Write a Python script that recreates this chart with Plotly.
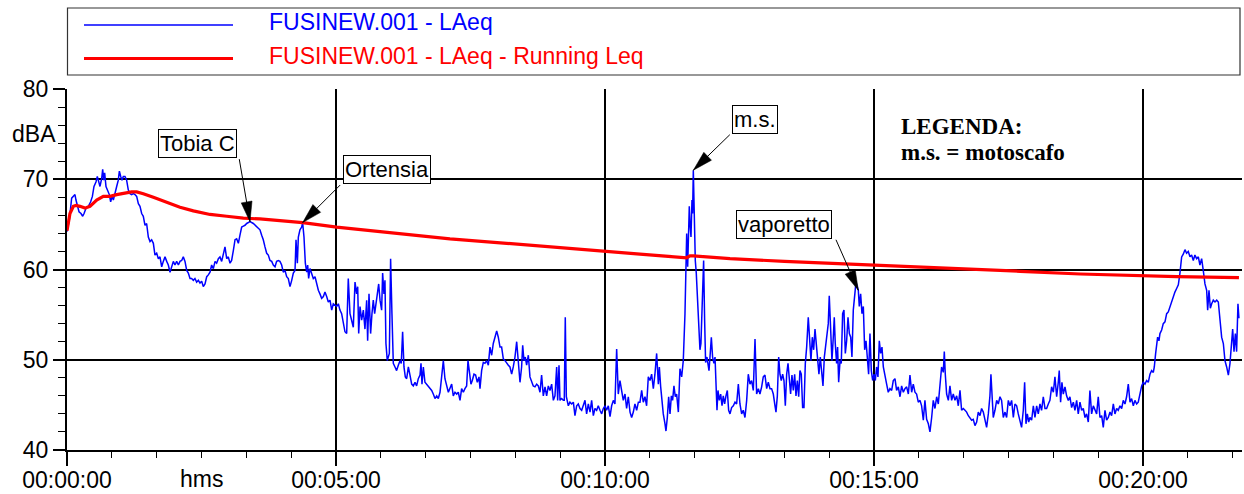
import plotly.graph_objects as go
import numpy as np

# ---------------- data ----------------
# LAeq short-time levels: elapsed time in seconds, level in dBA
time_s = [
    0.0, 2.6, 5.2, 7.1, 8.9, 10.0, 11.5, 13.4, 15.6, 17.5, 19.0, 21.2, 23.8, 26.4, 28.3, 30.1, 32.3, 33.8, 34.9, 36.8,
    38.7, 39.8, 40.9, 42.0, 43.5, 45.4, 47.2, 48.7, 50.2, 51.7, 53.5, 55.4, 57.2, 58.4, 59.9, 61.3, 62.8, 64.7, 66.5, 68.4,
    70.3, 72.1, 74.0, 75.8, 77.7, 79.6, 81.4, 83.3, 85.1, 87.0, 88.8, 90.7, 92.6, 94.4, 96.3, 98.1, 100.0, 101.9, 103.7, 105.6,
    107.4, 109.3, 111.2, 113.0, 114.9, 116.7, 118.6, 120.4, 122.3, 124.2, 126.0, 127.9, 129.7, 131.6, 133.5, 135.3, 137.2, 139.0, 140.9, 142.7,
    144.6, 146.5, 148.3, 150.2, 152.0, 153.9, 155.8, 157.6, 159.5, 161.3, 163.2, 165.1, 166.9, 168.8, 170.6, 172.5, 174.3, 176.2, 178.1, 179.9,
    181.8, 183.6, 185.5, 187.4, 189.2, 191.1, 192.9, 194.8, 196.7, 198.5, 200.4, 202.2, 204.1,
    207.8, 211.5, 215.2, 217.1, 218.9, 220.8, 222.7, 224.5, 226.4, 228.3, 230.1, 232.0, 233.8, 235.7, 237.5, 239.4, 241.2, 243.1, 245.0, 246.8,
    248.7, 250.6, 252.4, 254.3, 255.4, 256.9, 258.0, 259.8, 261.7, 262.8, 264.3, 265.8, 267.3, 268.4, 269.5, 271.0, 272.9, 274.7, 276.6, 278.4,
    280.3, 282.1, 284.0, 285.9, 287.7, 289.6, 291.4, 293.3, 295.2, 297.0, 298.9, 300.7, 302.6, 304.4, 306.3, 308.2, 310.0, 311.9, 313.7, 315.6,
    317.5, 319.3, 321.2, 323.0, 324.2, 325.3, 326.8, 328.6, 330.5, 332.3, 334.2, 335.3, 336.8, 338.6, 340.1, 341.6, 343.1, 344.6, 346.1, 347.6,
    349.1, 350.9, 352.0, 353.5, 354.6, 355.7, 357.2, 359.5, 360.9, 362.4, 363.9, 365.8, 367.6, 369.5, 371.4, 372.8, 374.3, 375.8, 377.3, 378.8,
    380.7, 382.5, 384.4, 386.2, 388.1, 389.9, 391.8, 393.7, 394.8, 395.9, 397.4, 399.2, 401.1, 403.0, 404.8, 406.7, 408.5, 410.4, 412.3, 414.1,
    416.0, 417.8, 419.7, 421.5, 423.4, 425.3,
    429.0, 430.8, 432.7, 434.6, 436.4, 438.3, 440.1, 442.0, 443.8, 445.7, 447.2, 448.7, 450.5, 452.0, 453.9, 455.7, 457.6, 459.5, 460.6, 462.4,
    464.3, 466.1, 468.0, 469.9, 471.7, 473.6, 475.4, 477.3, 479.2, 481.0, 482.9, 484.7, 486.6, 488.5, 490.3, 492.2, 494.0, 495.9, 497.7, 499.6,
    501.5, 503.3, 505.2, 507.0, 508.2, 509.6, 511.1, 512.6, 514.5, 516.3, 518.2, 520.0, 521.9, 523.8, 525.6, 527.5, 529.3, 531.2, 533.1, 534.9,
    536.8, 538.6, 540.5, 542.4, 544.2, 546.1, 547.2, 548.7, 549.8, 551.7, 553.5, 554.6, 555.7, 556.9, 559.1, 560.9, 562.8, 564.7, 566.5, 568.4,
    570.2, 572.1, 574.0, 575.8, 577.7, 579.5, 581.4, 583.3, 585.1, 587.0, 588.8, 590.7, 592.5, 594.4, 596.3, 598.1, 600.0, 601.8, 603.7, 605.6,
    607.4, 609.3, 611.1, 613.0, 614.8, 616.7, 618.6, 620.4, 622.3, 624.1, 626.0, 627.9, 629.7, 631.6, 633.4, 635.3, 637.2, 639.0,
    640.9, 642.7, 644.6, 646.4, 648.3, 650.2, 652.0, 653.9, 655.7, 657.6, 659.5, 660.6, 662.1, 663.5, 665.0, 666.9, 668.0, 669.5, 671.0, 672.5,
    674.0, 675.4, 676.9, 678.4, 679.9, 681.8, 683.6, 685.5, 687.3, 689.2, 690.3, 691.1, 692.2, 692.9, 694.0, 694.8, 695.9, 697.0, 697.7, 698.5,
    699.6, 700.7, 701.8, 703.3, 704.8, 705.9, 707.0, 708.2, 709.3, 710.0, 711.1, 712.2, 713.7, 714.8, 716.0, 717.1, 718.6, 720.0, 721.5, 722.7,
    723.8, 724.9, 726.0, 727.5, 729.0, 730.5, 731.9, 733.4, 734.9, 736.4, 737.9, 739.4, 741.2, 743.1, 745.0, 746.8, 748.7, 750.5, 752.4, 754.2,
    756.1, 758.0, 759.8, 761.7, 763.5, 765.4, 767.3, 769.1, 771.0, 772.8, 774.7, 776.5, 778.4, 780.3, 782.1, 784.0, 785.8, 787.7, 789.6, 790.7,
    792.2, 793.7, 795.1, 796.6, 798.1, 799.6, 801.1, 802.6, 804.1, 805.5, 807.0, 808.5, 810.0, 811.5, 813.0, 814.5, 816.0, 817.4, 818.9, 820.4,
    821.9, 823.4, 824.9, 826.7, 828.2, 829.7, 831.2, 832.7, 834.2, 835.7, 837.1, 838.6, 840.1, 841.6, 843.1, 844.6, 846.1, 847.6, 849.0, 850.1,
    852.0, 853.1, 854.6, 855.7, 856.8, 858.3, 859.4, 860.6, 862.1, 863.5, 865.0, 866.5, 868.0, 869.5, 871.0, 872.5, 874.0, 875.4, 876.9, 878.4,
    879.9, 881.4, 882.5, 883.6, 885.1, 886.6, 888.1, 889.6, 891.1, 892.5, 894.0, 895.5, 897.0, 898.5, 900.0, 901.5, 902.9, 904.4, 905.9, 907.4,
    908.9, 910.4, 912.2, 914.1, 915.9, 917.8, 919.7, 921.5, 923.4, 925.2, 927.1, 929.0, 930.8, 932.7, 934.5, 936.4, 938.3, 940.1, 942.0, 943.8,
    945.7, 947.5, 949.4, 951.3, 953.1, 955.0, 956.8, 958.7, 960.6, 962.4, 964.3, 966.1, 968.0, 969.9, 971.7, 973.6, 975.4, 977.3, 978.4, 979.5,
    981.0, 982.9, 984.7, 986.6, 988.4, 990.3, 992.2, 994.0, 995.9, 997.7, 999.6, 1001.5, 1003.3, 1005.2, 1007.0, 1008.9, 1010.7, 1012.6, 1014.5, 1016.3,
    1018.2, 1020.0, 1021.9, 1023.8, 1025.6, 1027.5, 1029.3, 1030.4, 1031.9, 1033.0, 1034.9, 1036.8, 1038.6, 1040.5, 1042.3, 1044.2, 1046.1, 1047.9, 1049.8, 1051.6,
    1053.5, 1055.4, 1057.2, 1059.1,
    1060.9, 1062.8, 1064.6, 1066.5, 1068.0, 1069.5, 1071.0, 1072.5, 1073.9, 1075.8, 1077.7, 1079.5, 1081.4, 1083.2, 1085.1, 1086.9, 1088.8, 1090.7, 1092.5, 1094.4,
    1096.2, 1098.1, 1100.0, 1101.8, 1103.7, 1105.5, 1106.6, 1108.1, 1109.6, 1111.1, 1113.0, 1114.8, 1116.7, 1118.5, 1120.4, 1122.3, 1124.1, 1126.0, 1127.8, 1129.7,
    1131.6, 1133.4, 1135.3, 1137.1, 1139.0, 1140.8, 1142.7, 1144.6, 1146.4, 1148.3, 1150.1, 1152.0, 1153.9, 1155.7, 1157.6, 1159.4, 1161.3, 1163.2, 1165.0, 1166.9,
    1168.7, 1170.6, 1172.4, 1174.3, 1176.2, 1178.0, 1179.9, 1181.7, 1183.6, 1185.5, 1187.3, 1189.2, 1191.0, 1192.9, 1194.7, 1196.6, 1198.5, 1200.3, 1202.2, 1204.0,
    1205.9, 1207.8, 1209.6, 1211.5, 1212.6, 1214.1, 1215.2, 1216.3, 1217.8, 1218.9, 1220.8, 1222.6, 1224.5, 1226.4, 1228.2, 1230.1, 1231.9, 1233.8, 1235.6, 1237.5,
    1239.4, 1241.2, 1243.1, 1244.9, 1246.8, 1248.6, 1250.5, 1252.4, 1254.2, 1256.1, 1257.9, 1259.8, 1261.7, 1263.5, 1265.4, 1267.2, 1269.1, 1271.0, 1272.1, 1273.6,
    1275.1, 1276.6, 1278.4, 1280.3, 1282.2, 1284.0, 1285.9, 1287.7, 1289.6, 1291.4, 1293.3, 1295.2, 1297.0, 1298.9, 1300.0, 1301.5, 1303.0, 1304.4, 1305.9, 1307.0,
]
laeq_db = [
    64.2, 65.5, 67.9, 68.1, 68.3, 67.7, 67.0, 66.4, 66.2, 65.9, 66.2, 66.8, 67.0, 67.5, 68.1, 69.2, 69.7, 70.3, 69.9, 69.2,
    70.1, 71.1, 69.9, 70.7, 69.2, 68.8, 68.3, 67.5, 68.1, 67.7, 68.3, 69.2, 69.9, 70.9, 70.3, 69.9, 70.3, 70.3, 69.9, 68.8,
    68.4, 68.3, 68.4, 68.3, 68.1, 67.3, 67.0, 66.2, 65.9, 64.9, 65.1, 63.6, 63.1, 63.3, 62.9, 61.6, 61.8, 61.2, 61.4, 60.3,
    60.9, 61.4, 60.9, 60.5, 59.7, 60.3, 60.9, 60.5, 60.9, 60.5, 60.9, 61.0, 61.4, 60.9, 59.9, 59.6, 59.0, 59.0, 58.8, 59.0,
    58.6, 58.8, 58.5, 58.7, 58.1, 58.4, 59.2, 59.4, 59.7, 60.5, 60.1, 60.9, 60.7, 61.2, 61.4, 60.9, 61.6, 62.5, 61.2, 61.4,
    60.7, 61.0, 62.1, 63.3, 63.4, 62.9, 63.8, 64.7, 64.8, 64.9, 65.1, 65.2, 65.3,
    65.1, 64.7, 64.4, 63.8, 63.3, 62.5, 61.8, 61.6, 61.0, 60.9, 60.5, 60.3, 60.9, 61.0, 60.9, 60.5, 59.7, 59.9, 59.2, 59.0,
    58.1, 58.8, 59.6, 59.9, 63.3, 60.7, 63.6, 64.4, 64.7, 65.2, 63.6, 60.7, 59.7, 60.5, 59.0, 60.1, 59.6, 59.0, 59.2, 58.4,
    57.7, 57.3, 56.8, 57.0, 57.5, 57.0, 56.4, 56.6, 55.5, 56.2, 56.0, 55.9, 56.2, 55.5, 55.1, 54.0, 53.1, 52.9, 59.0, 55.1,
    54.4, 53.6, 58.6, 57.3, 58.1, 52.9, 55.9, 54.4, 55.5, 53.4, 56.6, 52.1, 57.3, 52.9, 55.1, 56.6, 55.1, 56.6, 57.3, 58.4,
    56.6, 55.5, 59.6, 57.3, 58.8, 51.8, 49.9, 50.7, 61.2, 55.1, 49.6, 49.2, 48.8, 49.4, 49.9, 49.6, 53.1, 49.2, 48.1, 47.9,
    49.2, 48.3, 47.3, 47.1, 47.5, 47.1, 47.9, 48.3, 49.6, 47.3, 49.2, 47.5, 47.3, 47.0, 46.8, 46.6, 46.2, 45.7, 46.0, 45.7,
    46.4, 48.4, 49.9, 47.9, 47.1, 46.4,
    47.3, 46.0, 46.4, 46.2, 46.4, 45.5, 46.8, 46.4, 46.8, 47.1, 49.9, 48.4, 47.3, 47.7, 48.4, 48.3, 47.5, 48.1, 46.8, 48.8,
    49.7, 49.6, 49.9, 49.4, 51.4, 50.5, 51.8, 52.5, 53.2, 52.5, 51.4, 51.4, 50.1, 49.9, 49.6, 49.4, 49.2, 48.4, 49.2, 50.3,
    52.0, 49.9, 47.5, 49.2, 51.6, 49.9, 50.3, 49.4, 50.5, 48.1, 47.5, 47.1, 47.0, 47.3, 47.1, 46.4, 48.3, 46.0, 47.0, 46.0,
    47.1, 46.6, 47.3, 45.5, 46.0, 49.2, 45.5, 49.4, 45.5, 45.7, 45.5, 45.5, 54.7, 45.9, 44.9, 45.3, 45.1, 45.3, 43.8, 44.9,
    45.1, 44.6, 44.4, 44.9, 45.5, 44.0, 45.1, 44.2, 45.5, 43.8, 44.6, 44.4, 44.9, 44.4, 44.0, 44.6, 44.9, 44.4, 44.9, 43.7,
    44.9, 45.5, 45.1, 51.2, 46.2, 47.7, 46.6, 45.5, 46.2, 44.6, 45.9, 44.2, 43.6, 44.2, 45.1, 44.4, 45.3, 45.3,
    46.6, 45.3, 45.9, 44.9, 48.1, 47.7, 48.4, 46.8, 48.4, 50.7, 47.3, 49.2, 47.0, 45.5, 44.0, 42.9, 42.1, 43.6, 45.9, 44.0,
    46.0, 45.5, 47.1, 45.9, 46.2, 44.2, 49.0, 48.1, 49.9, 55.1, 59.9, 64.0, 60.3, 64.2, 67.0, 65.1, 63.6, 67.7, 66.2, 71.0,
    65.5, 61.0, 59.6, 57.0, 54.0, 51.1, 51.8, 55.1, 58.8, 61.0, 54.4, 49.7, 50.3, 49.6, 48.8, 50.3, 52.5, 50.3, 49.6, 50.3,
    47.7, 44.4, 46.6, 45.5, 46.2, 44.9, 46.0, 45.1, 46.0, 46.6, 44.4, 44.0, 44.7, 44.9, 45.3, 45.1, 47.3, 45.1, 44.0, 44.4,
    43.6, 45.5, 48.4, 47.3, 47.7, 46.6, 52.3, 46.2, 46.8, 46.2, 47.0, 48.1, 48.3, 46.8, 47.5, 46.8, 46.8, 46.2, 44.9, 44.2,
    46.0, 50.3, 48.4, 47.7, 48.4, 47.7, 44.9, 48.4, 49.6, 48.1, 46.2, 48.3, 46.6, 48.4, 46.0, 47.7, 45.9, 48.8, 48.4, 44.7,
    44.7, 49.6, 51.4, 54.7, 52.1, 49.9, 52.5, 51.1, 53.4, 51.4, 49.9, 48.4, 50.3, 48.8, 47.1, 50.3, 51.4, 52.5, 54.0, 57.1,
    52.9, 49.9, 52.5, 54.7, 51.8, 49.6, 51.4, 47.5, 49.9, 49.6, 55.1, 55.5, 50.7, 52.1, 54.7, 52.9, 52.5, 50.3, 55.5, 57.0,
    58.6, 58.1, 57.7, 55.9, 57.3, 55.1, 55.9, 51.1, 52.1, 50.3, 48.4, 52.9, 48.8, 47.7, 48.4, 47.7, 49.2, 48.1, 52.1, 50.7,
    51.4, 49.2, 48.1, 47.3, 46.4, 46.8, 46.6, 47.7, 47.9, 46.6, 47.0, 45.9, 47.1, 46.4, 46.8, 47.0, 46.2, 48.3, 46.4, 47.3,
    46.4, 46.2, 45.3, 45.5, 44.9, 43.3, 45.5, 43.4, 42.9, 42.0, 43.6, 45.5, 44.6, 45.9, 45.1, 47.7, 49.2, 48.6, 50.9, 48.4,
    46.2, 45.5, 47.1, 45.5, 46.2, 45.5, 46.0, 44.9, 46.6, 44.4, 44.6, 44.4, 44.2, 43.8, 43.6, 43.3, 43.4, 42.7, 43.1, 44.2,
    43.8, 44.6, 44.2, 43.4, 42.5, 44.0, 46.0, 48.4, 45.5, 43.6, 44.4, 45.5, 45.1, 45.9, 45.5, 43.6, 44.2, 43.6, 45.5, 44.9,
    45.5, 43.6, 45.1, 44.9,
    44.0, 43.3, 42.5, 44.4, 47.5, 42.9, 44.0, 43.1, 43.6, 43.3, 44.9, 43.6, 44.9, 44.0, 45.1, 44.4, 45.9, 44.6, 44.6, 45.1,
    45.5, 47.0, 46.4, 48.1, 45.9, 47.5, 48.8, 45.3, 47.5, 46.2, 47.0, 46.0, 45.5, 45.9, 44.7, 45.3, 44.4, 45.5, 44.0, 45.3,
    44.4, 44.6, 43.6, 44.0, 43.1, 46.6, 44.0, 44.9, 44.4, 44.0, 45.9, 43.6, 43.8, 42.5, 44.4, 43.3, 43.6, 44.2, 43.8, 45.1,
    44.0, 44.6, 44.4, 44.9, 44.6, 45.5, 45.1, 45.9, 47.3, 45.3, 45.7, 44.9, 45.5, 45.1, 45.3, 46.2, 47.1, 47.5, 47.3, 47.7,
    47.5, 48.4, 48.8, 48.6, 49.2, 50.7, 51.4, 52.5, 52.1, 52.9, 53.3, 54.0, 54.2, 55.1, 55.3, 55.9, 56.4, 57.0, 57.5, 57.9,
    58.3, 59.6, 61.4, 61.7, 62.2, 61.8, 62.0, 61.4, 61.6, 61.0, 61.6, 61.2, 61.4, 60.5, 61.2, 59.9, 58.4, 57.7, 55.5, 57.7,
    55.7, 56.2, 56.6, 56.4, 56.6, 56.4, 54.0, 52.5, 51.8, 49.9, 49.2, 48.3, 49.6, 52.1, 53.4, 50.9, 52.9, 50.9, 56.2, 54.6,
]

# Running Leq
run_time_s = [0.0, 3.3, 7.1, 10.0, 14.5, 20.1, 25.6, 33.1, 40.5, 48.0, 55.4, 66.5, 72.1, 77.7, 85.1, 96.3, 111.2,
              126.0, 140.9, 159.5, 178.1, 196.7, 215.2, 262.8, 300.7, 360.0, 427.1, 490.3, 560.0, 600.0, 639.0,
              691.1, 694.8, 698.5, 739.4, 800.0, 850.9, 899.2, 960.0, 1063.0, 1130.0, 1199.2, 1237.5, 1307.0]
run_leq_db = [64.3, 66.2, 67.0, 67.1, 67.0, 66.8, 67.0, 67.7, 68.1, 68.1, 68.3, 68.5, 68.6, 68.6, 68.4, 68.0, 67.4,
              66.9, 66.5, 66.1, 65.9, 65.7, 65.6, 65.2, 64.7, 64.1, 63.4, 62.9, 62.3, 62.0, 61.7,
              61.3, 61.5, 61.5, 61.2, 60.9, 60.7, 60.5, 60.2, 59.8, 59.5, 59.3, 59.2, 59.1]

tick_seconds = [0, 300, 600, 900, 1200]
tick_labels = ["00:00:00", "00:05:00", "00:10:00", "00:15:00", "00:20:00"]
y_ticks = [40, 50, 60, 70, 80]

event_labels = ["Tobia C", "Ortensia", "m.s.", "vaporetto"]
event_times = [204.1, 262.8, 698.5, 882.5]

series_names = ["FUSINEW.001 - LAeq", "FUSINEW.001 - LAeq - Running Leq"]
series_colors = ["#0000ff", "#ff0000"]

# ---------------- layout geometry (pixels) ----------------
W, H = 1244, 494
ML, MR, MT, MB = 67, 2, 89, 44
PW, PH = W - ML - MR, H - MT - MB
SEC_PER_PX = 300 / 269.0
X_MAX = PW * SEC_PER_PX
Y_MIN, Y_MAX = 40, 80


def px(xp):
    return (xp - ML) / PW


def py(yp):
    return (H - MB - yp) / PH


def data_to_screen(t, v):
    return ML + t / X_MAX * PW, MT + (Y_MAX - v) / (Y_MAX - Y_MIN) * PH


FONT = "Liberation Sans, Arial, sans-serif"
SERIF = "Liberation Serif, Times New Roman, serif"

fig = go.Figure()
fig.add_trace(go.Scatter(x=time_s, y=laeq_db, mode="lines", name=series_names[0],
                         line=dict(color=series_colors[0], width=1.5)))
fig.add_trace(go.Scatter(x=run_time_s, y=run_leq_db, mode="lines", name=series_names[1],
                         line=dict(color=series_colors[1], width=3.2)))

annotations = []
shapes = []

# event call-outs: (box offset, arrow tail offset) in pixels relative to the pointed sample
box_offsets = [(-53, -78), (84, -53), (62, -51), (-74, -66)]
tail_offsets = [(-11, -64), (39, -39), (38, -37), (-23, -52)]
HEAD_LEN, HEAD_HALF = 20.0, 5.5
t_arr = np.array(time_s)
for lab, tt, (bx, by), (tx, ty) in zip(event_labels, event_times, box_offsets, tail_offsets):
    i = int(np.argmin(np.abs(t_arr - tt)))
    xv, yv = time_s[i], laeq_db[i]
    annotations.append(dict(x=xv, y=yv, xref="x", yref="y", text=lab, showarrow=True,
                            ax=bx, ay=by, arrowcolor="rgba(0,0,0,0)", arrowwidth=0.1,
                            font=dict(family=FONT, size=22, color="black"),
                            bgcolor="white", bordercolor="black", borderwidth=1, borderpad=1))
    annotations.append(dict(x=xv, y=yv, xref="x", yref="y", text="", showarrow=True,
                            ax=tx, ay=ty, arrowcolor="black", arrowwidth=1, arrowhead=0))
    # filled arrow head
    sx, sy = data_to_screen(xv, yv)
    dx, dy = -tx, -ty
    n = (dx * dx + dy * dy) ** 0.5
    dx, dy = dx / n, dy / n
    bxp, byp = sx - HEAD_LEN * dx, sy - HEAD_LEN * dy
    nx, ny = -dy, dx
    pts = [(sx, sy), (bxp + HEAD_HALF * nx, byp + HEAD_HALF * ny), (bxp - HEAD_HALF * nx, byp - HEAD_HALF * ny)]
    path = "M " + " L ".join(f"{px(a):.5f},{py(b):.5f}" for a, b in pts) + " Z"
    shapes.append(dict(type="path", xref="paper", yref="paper", path=path,
                       fillcolor="black", line=dict(color="black", width=0.5), layer="above"))

# LEGENDA note
annotations.append(dict(x=px(899), y=py(126), xref="paper", yref="paper", xanchor="left", yanchor="middle",
                        text="<b>LEGENDA:</b>", showarrow=False,
                        font=dict(family=SERIF, size=23, color="black")))
annotations.append(dict(x=px(899), y=py(152), xref="paper", yref="paper", xanchor="left", yanchor="middle",
                        text="<b>m.s. = motoscafo</b>", showarrow=False,
                        font=dict(family=SERIF, size=23, color="black")))

# axis unit labels
annotations.append(dict(x=px(58), y=75, xref="paper", yref="y", xanchor="right", yanchor="middle",
                        text="dBA", showarrow=False, font=dict(family=FONT, size=23, color="black")))
annotations.append(dict(x=150, y=0, xref="x", yref="paper", xanchor="center", yanchor="top", yshift=-14,
                        text="hms", showarrow=False, font=dict(family=FONT, size=23, color="black")))

# legend box (drawn)
shapes.append(dict(type="rect", xref="paper", yref="paper", x0=px(67.5), x1=px(1240), y0=py(75), y1=py(8),
                   line=dict(color="#333", width=1.2), fillcolor="white", layer="above"))
leg_y_line = [25, 58.5]
leg_y_text = [22, 56]
leg_widths = [1.5, 3.2]
for name, col, yl, yt, lw in zip(series_names, series_colors, leg_y_line, leg_y_text, leg_widths):
    shapes.append(dict(type="line", xref="paper", yref="paper", x0=px(84), x1=px(233), y0=py(yl), y1=py(yl),
                       line=dict(color=col, width=lw)))
    annotations.append(dict(x=px(267), y=py(yt), xref="paper", yref="paper", xanchor="left", yanchor="middle",
                            text=name, showarrow=False, font=dict(family=FONT, size=23, color=col)))

fig.update_layout(
    width=W, height=H,
    margin=dict(l=ML, r=MR, t=MT, b=MB, pad=0, autoexpand=False),
    paper_bgcolor="white", plot_bgcolor="white",
    showlegend=False,
    font=dict(family=FONT, size=23, color="black"),
    xaxis=dict(range=[0, X_MAX], tickvals=tick_seconds, ticktext=tick_labels, automargin=False,
               showgrid=True, gridcolor="black", gridwidth=1.5, zeroline=False,
               showline=True, linecolor="black", linewidth=2,
               ticks="outside", ticklen=14, tickwidth=1.5, tickcolor="black", ticklabelstandoff=-6,
               tickfont=dict(family=FONT, size=23, color="black"),
               minor=dict(tick0=0, dtick=50, ticks="outside", ticklen=6, tickwidth=1, tickcolor="black", showgrid=False)),
    yaxis=dict(range=[Y_MIN, Y_MAX], tickvals=y_ticks, automargin=False,
               showgrid=True, gridcolor="black", gridwidth=1.5, zeroline=False,
               showline=True, linecolor="black", linewidth=2,
               ticks="outside", ticklen=12, tickwidth=1.5, tickcolor="black",
               tickfont=dict(family=FONT, size=23, color="black"),
               minor=dict(tick0=40, dtick=2, ticks="outside", ticklen=7, tickwidth=1, tickcolor="black", showgrid=False)),
    annotations=annotations,
    shapes=shapes,
)

fig.write_html("out.html", config={"displayModeBar": False},
               post_script="document.body.style.margin='0px';document.body.style.padding='0px';"
                           "document.documentElement.style.overflow='hidden';")
